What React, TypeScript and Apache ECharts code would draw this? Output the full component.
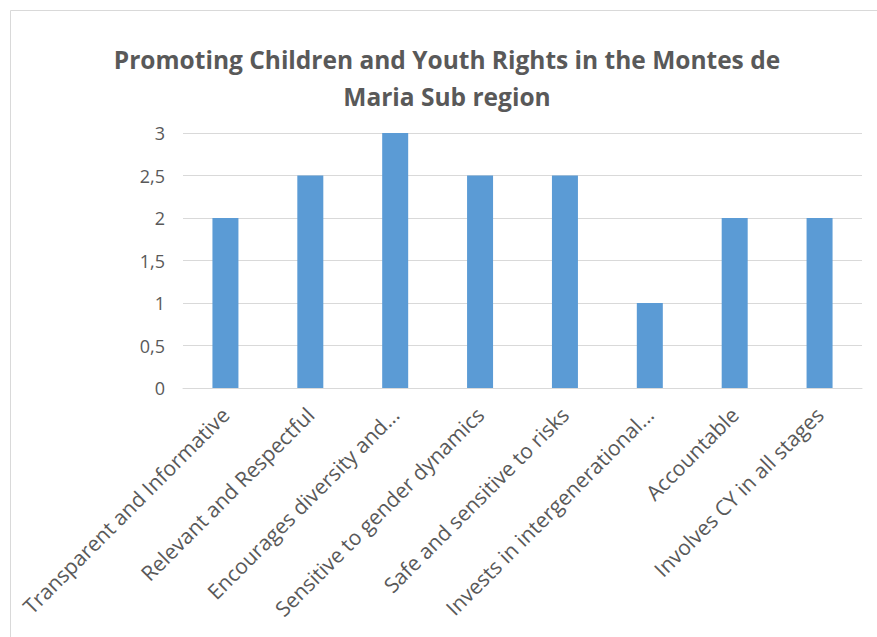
import React, { useEffect, useRef } from "react";
import * as echarts from "echarts";

const titleText = "Promoting Children and Youth Rights in the Montes de\nMaria Sub region";
const categories = [
  "Transparent and Informative",
  "Relevant and Respectful",
  "Encourages diversity and...",
  "Sensitive to gender dynamics",
  "Safe and sensitive to risks",
  "Invests in intergenerational...",
  "Accountable",
  "Involves CY in all stages",
];
const values = [2, 2.5, 3, 2.5, 2.5, 1, 2, 2];
const yMin = 0;
const yMax = 3;
const yStep = 0.5;

export default function App() {
  const ref = useRef<HTMLDivElement>(null);
  useEffect(() => {
    if (!ref.current) return;
    const chart = echarts.init(ref.current, null, { renderer: "svg" });
    const font = "'Open Sans', sans-serif";
    chart.setOption({
      animation: false,
      backgroundColor: "#ffffff",
      title: {
        text: titleText,
        left: 442,
        textAlign: "center",
        top: 36,
        textStyle: {
          fontFamily: font,
          fontSize: 24.5,
          fontWeight: "bold",
          color: "#595959",
          lineHeight: 37,
        },
      },
      graphic: [
        {
          type: "rect",
          shape: { x: 10.5, y: 10.5, width: 1000, height: 1000 },
          style: { fill: "none", stroke: "#d9d9d9", lineWidth: 1 },
          silent: true,
        },
      ],
      grid: { left: 183, right: 15, top: 133, bottom: 249, containLabel: false },
      xAxis: {
        type: "category",
        data: categories,
        axisLine: { show: true, lineStyle: { color: "#d9d9d9", width: 1 } },
        axisTick: { show: false },
        axisLabel: {
          rotate: 45,
          interval: 0,
          margin: 23,
          fontFamily: font,
          fontSize: 21,
          color: "#595959",
        },
      },
      yAxis: {
        type: "value",
        min: yMin,
        max: yMax,
        interval: yStep,
        axisLine: { show: false },
        axisTick: { show: false },
        splitLine: { lineStyle: { color: "#d9d9d9", width: 1 } },
        axisLabel: {
          margin: 18,
          fontFamily: font,
          fontSize: 18,
          color: "#595959",
          formatter: (v: number) => String(v).replace(".", ","),
        },
      },
      series: [
        {
          type: "bar",
          data: values,
          barWidth: 26,
          itemStyle: { color: "#5b9bd5" },
        },
      ],
    });
    return () => chart.dispose();
  }, []);
  return (
    <div
      ref={ref}
      style={{ position: "fixed", left: 0, top: 0, width: 877, height: 637 }}
    />
  );
}
